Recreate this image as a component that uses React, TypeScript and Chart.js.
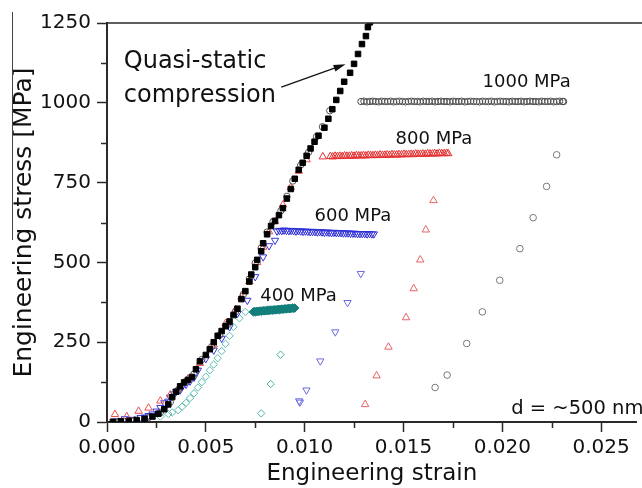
import React, { useEffect, useRef } from 'react';
import { Chart, registerables } from 'chart.js';

Chart.register(...registerables);

const FONT = '"DejaVu Sans", "Liberation Sans", sans-serif';

// ---- axis ticks ----
const xTicks = [0, 0.005, 0.01, 0.015, 0.02, 0.025];
const xMinorTicks = [0.0025, 0.0075, 0.0125, 0.0175, 0.0225];
const yTicks = [0, 250, 500, 750, 1000, 1250];
const yMinorTicks = [125, 375, 625, 875, 1125];

// ---- quasi-static compression (black squares) [strain, stress MPa] ----
const quasiStatic = [
  [0.0003, 1], [0.0007, 2], [0.0011, 4], [0.0015, 6], [0.0019, 10], [0.0023, 17], [0.0026, 26],
  [0.0029, 40], [0.0031, 55], [0.0033, 78], [0.0035, 95], [0.0037, 112], [0.0039, 124], [0.0041, 132],
  [0.0043, 141], [0.0045, 165], [0.0047, 190], [0.005, 210], [0.0052, 228], [0.0054, 250], [0.0056, 270],
  [0.0058, 285], [0.006, 300], [0.0062, 315], [0.0064, 335], [0.0066, 355], [0.0068, 385], [0.007, 410],
  [0.0072, 440], [0.0073, 462], [0.0075, 485], [0.0076, 508], [0.0078, 535], [0.0079, 560], [0.0081, 588],
  [0.0083, 614], [0.0085, 630], [0.0087, 648], [0.0089, 670], [0.0091, 700], [0.0093, 730], [0.0095, 762],
  [0.0097, 790], [0.0099, 812], [0.0101, 834], [0.0103, 857], [0.0105, 878], [0.0107, 897], [0.011, 922],
  [0.0112, 950], [0.0114, 980], [0.0116, 1009], [0.0118, 1037], [0.012, 1066], [0.0123, 1094],
  [0.0125, 1122], [0.0127, 1153], [0.0129, 1184], [0.0131, 1209], [0.0132, 1237], [0.0133, 1252],
];

// ---- 1000 MPa (gray circles) ----
const load1000 = [
  [0.0006, 2], [0.0014, 6], [0.0021, 14], [0.0027, 30], [0.0032, 62], [0.0036, 100], [0.004, 128],
  [0.0044, 150], [0.0048, 196], [0.0053, 236], [0.0057, 272], [0.0061, 306], [0.0065, 345], [0.0069, 400],
  [0.0072, 448], [0.0075, 498], [0.0078, 545], [0.0081, 595], [0.0084, 628], [0.0088, 662], [0.0091, 707],
  [0.0094, 755], [0.0098, 805], [0.0102, 845], [0.0106, 894], [0.0109, 925], [0.01127, 975],
];
const plateau1000 = [
  [0.01285, 1004], [0.013, 1005], [0.01315, 1003], [0.0133, 1004], [0.01345, 1005], [0.0136, 1004],
  [0.01375, 1003], [0.0139, 1005], [0.01405, 1004], [0.0142, 1004], [0.01435, 1005], [0.0145, 1003],
  [0.01465, 1004], [0.0148, 1005], [0.01495, 1004], [0.0151, 1003], [0.01525, 1004], [0.0154, 1005],
  [0.01555, 1004], [0.0157, 1004], [0.01585, 1003], [0.016, 1005], [0.01615, 1004], [0.0163, 1004],
  [0.01645, 1005], [0.0166, 1003], [0.01675, 1004], [0.0169, 1005], [0.01705, 1004], [0.0172, 1004],
  [0.01735, 1003], [0.0175, 1005], [0.01765, 1004], [0.0178, 1004], [0.01795, 1005], [0.0181, 1003],
  [0.01825, 1004], [0.0184, 1005], [0.01855, 1004], [0.0187, 1004], [0.01885, 1003], [0.019, 1005],
  [0.01915, 1004], [0.0193, 1004], [0.01945, 1005], [0.0196, 1003], [0.01975, 1004], [0.0199, 1005],
  [0.02005, 1004], [0.0202, 1004], [0.02035, 1003], [0.0205, 1005], [0.02065, 1004], [0.0208, 1004],
  [0.02095, 1005], [0.0211, 1003], [0.02125, 1004], [0.0214, 1005], [0.02155, 1004], [0.0217, 1004],
  [0.02185, 1003], [0.022, 1005], [0.02215, 1004], [0.0223, 1004], [0.02245, 1005], [0.0226, 1003],
  [0.02275, 1004], [0.0229, 1005], [0.02305, 1004], [0.0231, 1004],
];
const unload1000 = [
  [0.02275, 837], [0.02224, 738], [0.02156, 640], [0.02089, 543], [0.01987, 444], [0.01899, 345],
  [0.0182, 246], [0.01721, 147], [0.0166, 108],
];

// ---- 800 MPa (red triangles) ----
const load800 = [
  [0.0004, 24], [0.001, 17], [0.0016, 34], [0.0021, 44], [0.0027, 66], [0.0032, 85], [0.0036, 104],
  [0.0041, 135], [0.0047, 184], [0.0054, 242], [0.006, 309], [0.0065, 352], [0.0068, 391], [0.0072, 440],
  [0.0076, 500], [0.0079, 548], [0.0082, 596], [0.0085, 628], [0.0089, 680], [0.0093, 735], [0.0097, 786],
  [0.0101, 822],
];
const plateau800 = [
  [0.01092, 831], [0.0113, 832], [0.01142, 831], [0.01154, 833], [0.01166, 832], [0.01178, 833],
  [0.0119, 832], [0.01202, 834], [0.01214, 833], [0.01226, 833], [0.01238, 834], [0.0125, 833],
  [0.01262, 835], [0.01274, 834], [0.01286, 834], [0.01298, 835], [0.0131, 834], [0.01322, 836],
  [0.01334, 835], [0.01346, 835], [0.01358, 836], [0.0137, 835], [0.01382, 837], [0.01394, 836],
  [0.01406, 836], [0.01418, 837], [0.0143, 836], [0.01442, 838], [0.01454, 837], [0.01466, 837],
  [0.01478, 838], [0.0149, 837], [0.01502, 839], [0.01514, 838], [0.01526, 838], [0.01538, 839],
  [0.0155, 838], [0.01562, 840], [0.01574, 839], [0.01586, 839], [0.01598, 840], [0.0161, 839],
  [0.01622, 841], [0.01634, 840], [0.01646, 840], [0.01658, 841], [0.0167, 840], [0.01682, 842],
  [0.01694, 841], [0.01706, 841], [0.01718, 842], [0.01726, 841],
];
const unload800 = [
  [0.01652, 694], [0.01613, 602], [0.01585, 508], [0.01552, 418], [0.01513, 327], [0.01424, 235],
  [0.01364, 145], [0.01306, 55],
];

// ---- 600 MPa (blue down-triangles) ----
const load600 = [
  [0.0005, 3], [0.0009, 10], [0.0013, 8], [0.0017, 14], [0.0019, 15], [0.0021, 20], [0.0023, 25],
  [0.0025, 34], [0.0027, 45], [0.0029, 60], [0.0031, 65], [0.0032, 78], [0.0034, 88], [0.0035, 95],
  [0.0037, 100], [0.0038, 110], [0.004, 118], [0.0042, 128], [0.0044, 140], [0.0046, 162], [0.005, 198],
  [0.0054, 225], [0.0058, 262], [0.0062, 298], [0.0066, 340], [0.0071, 381], [0.0075, 455], [0.0079, 517],
  [0.0082, 552], [0.0085, 569],
];
const plateau600 = [
  [0.0086, 598], [0.00872, 600], [0.00884, 599], [0.00896, 601], [0.00908, 600], [0.0092, 599],
  [0.00932, 600], [0.00944, 599], [0.00956, 598], [0.00968, 599], [0.0098, 598], [0.00992, 597],
  [0.01004, 598], [0.01016, 597], [0.01028, 596], [0.0104, 597], [0.01052, 596], [0.01064, 595],
  [0.01076, 596], [0.01088, 595], [0.011, 594], [0.01112, 595], [0.01124, 594], [0.01136, 593],
  [0.01148, 594], [0.0116, 593], [0.01172, 593], [0.01184, 593], [0.01196, 592], [0.01208, 592],
  [0.0122, 592], [0.01232, 591], [0.01244, 591], [0.01256, 591], [0.01268, 590], [0.0128, 590],
  [0.01292, 590], [0.01304, 590], [0.01316, 589], [0.01328, 590], [0.0134, 589], [0.0135, 589],
];
const unload600 = [
  [0.01284, 465], [0.01217, 374], [0.01155, 282], [0.01079, 191], [0.01009, 100], [0.00972, 66],
  [0.00976, 62],
];

// ---- 400 MPa (teal diamonds) ----
const load400 = [
  [0.0027, 17], [0.0031, 25], [0.0033, 30], [0.0036, 37], [0.0038, 48], [0.004, 60], [0.0042, 75],
  [0.0044, 90], [0.0046, 108], [0.0048, 125], [0.005, 142], [0.0052, 162], [0.0054, 180], [0.0056, 200],
  [0.0058, 222], [0.006, 245], [0.0062, 270], [0.0064, 298], [0.0067, 325], [0.007, 345],
];
const plateau400 = [
  [0.0074, 345], [0.00746, 346], [0.00752, 345], [0.00758, 347], [0.00764, 346], [0.0077, 347],
  [0.00776, 348], [0.00782, 347], [0.00788, 348], [0.00794, 349], [0.008, 348], [0.00806, 349],
  [0.00812, 350], [0.00818, 349], [0.00824, 350], [0.0083, 351], [0.00836, 350], [0.00842, 351],
  [0.00848, 352], [0.00854, 351], [0.0086, 352], [0.00866, 353], [0.00872, 352], [0.00878, 353],
  [0.00884, 354], [0.0089, 353], [0.00896, 354], [0.00902, 355], [0.00908, 354], [0.00914, 355],
  [0.0092, 356], [0.00926, 355], [0.00932, 356], [0.00938, 357], [0.00944, 356], [0.0095, 357],
];
const unload400 = [[0.00878, 211], [0.00828, 119], [0.0078, 27]];

// ---- annotations: [text, strain, stress, font px] ----
const annotations: [string, number, number, number][] = [
  ['Quasi-static', 0.00085, 1108, 24],
  ['compression', 0.00085, 1003, 24],
  ['1000 MPa', 0.019, 1050, 18],
  ['800 MPa', 0.0146, 871, 18],
  ['600 MPa', 0.0105, 631, 18],
  ['400 MPa', 0.00775, 380, 18],
  ['d = ~500 nm', 0.02045, 25, 19.5],
];
const arrowFrom = [0.00882, 1049];
const arrowTo = [0.01207, 1121];

const pts = (arr: number[][]) => arr.map(([x, y]) => ({ x, y }));

function ds(label: string, data: number[][], style: any) {
  return {
    label,
    data: pts(data),
    showLine: false,
    pointBorderWidth: 1,
    pointHoverRadius: 0,
    ...style,
  };
}

const decoPlugin = {
  id: 'deco',
  afterDraw(chart: any) {
    const { ctx, chartArea } = chart;
    const x = chart.scales.x;
    const y = chart.scales.y;
    ctx.save();
    ctx.strokeStyle = '#2a2a2a';
    ctx.lineWidth = 1.5;
    // top frame line
    ctx.beginPath();
    ctx.moveTo(chartArea.left - 0.75, chartArea.top);
    ctx.lineTo(chart.width, chartArea.top);
    ctx.stroke();
    // minor ticks
    ctx.beginPath();
    xMinorTicks.forEach((v) => {
      const px = Math.round(x.getPixelForValue(v)) + 0.5;
      ctx.moveTo(px, chartArea.bottom);
      ctx.lineTo(px, chartArea.bottom + 6);
    });
    yMinorTicks.forEach((v) => {
      const py = Math.round(y.getPixelForValue(v)) + 0.5;
      ctx.moveTo(chartArea.left, py);
      ctx.lineTo(chartArea.left - 6, py);
    });
    ctx.stroke();
    // thin line at far left
    ctx.lineWidth = 1;
    ctx.strokeStyle = '#444';
    ctx.beginPath();
    ctx.moveTo(12.5, 12);
    ctx.lineTo(12.5, 240);
    ctx.stroke();
    // texts
    ctx.fillStyle = '#111';
    ctx.textAlign = 'left';
    ctx.textBaseline = 'alphabetic';
    annotations.forEach(([t, sx, sy, fs]) => {
      ctx.font = `${fs}px ${FONT}`;
      ctx.fillText(t, x.getPixelForValue(sx), y.getPixelForValue(sy));
    });
    // arrow
    const x0 = x.getPixelForValue(arrowFrom[0]);
    const y0 = y.getPixelForValue(arrowFrom[1]);
    const x1 = x.getPixelForValue(arrowTo[0]);
    const y1 = y.getPixelForValue(arrowTo[1]);
    const ang = Math.atan2(y1 - y0, x1 - x0);
    const hl = 12;
    const hw = 3.5;
    ctx.strokeStyle = '#111';
    ctx.lineWidth = 1.2;
    ctx.beginPath();
    ctx.moveTo(x0, y0);
    ctx.lineTo(x1 - Math.cos(ang) * hl * 0.8, y1 - Math.sin(ang) * hl * 0.8);
    ctx.stroke();
    ctx.fillStyle = '#111';
    ctx.beginPath();
    ctx.moveTo(x1, y1);
    ctx.lineTo(x1 - Math.cos(ang) * hl - Math.sin(ang) * hw, y1 - Math.sin(ang) * hl + Math.cos(ang) * hw);
    ctx.lineTo(x1 - Math.cos(ang) * hl + Math.sin(ang) * hw, y1 - Math.sin(ang) * hl - Math.cos(ang) * hw);
    ctx.closePath();
    ctx.fill();
    ctx.restore();
  },
};

export default function App() {
  const ref = useRef<HTMLCanvasElement | null>(null);
  useEffect(() => {
    if (!ref.current) return;
    const gray = '#4d4d4d';
    const chart = new Chart(ref.current, {
      type: 'scatter',
      data: {
        datasets: [
          ds('Quasi-static compression', quasiStatic, {
            pointStyle: 'rect', pointRadius: 3.9, pointBackgroundColor: '#000', pointBorderColor: '#000',
          }),
          ds('1000 MPa plateau', plateau1000, {
            pointStyle: 'circle', pointRadius: 3.2, pointBackgroundColor: 'rgba(0,0,0,0)', pointBorderColor: gray,
          }),
          ds('1000 MPa loading', load1000, {
            pointStyle: 'circle', pointRadius: 3.2, pointBackgroundColor: 'rgba(0,0,0,0)', pointBorderColor: '#555',
          }),
          ds('1000 MPa unloading', unload1000, {
            pointStyle: 'circle', pointRadius: 3.3, pointBackgroundColor: 'rgba(0,0,0,0)', pointBorderColor: '#777',
          }),
          ds('800 MPa plateau', plateau800, {
            pointStyle: 'triangle', pointRadius: 4.3, pointBackgroundColor: 'rgba(0,0,0,0)', pointBorderColor: '#e53030',
          }),
          ds('800 MPa loading', load800, {
            pointStyle: 'triangle', pointRadius: 4.3, pointBackgroundColor: 'rgba(0,0,0,0)', pointBorderColor: '#ee5050',
          }),
          ds('800 MPa unloading', unload800, {
            pointStyle: 'triangle', pointRadius: 4.3, pointBackgroundColor: 'rgba(0,0,0,0)', pointBorderColor: '#e86464',
          }),
          ds('600 MPa plateau', plateau600, {
            pointStyle: 'triangle', rotation: 180, pointRotation: 180, pointRadius: 4.2,
            pointBackgroundColor: 'rgba(0,0,0,0)', pointBorderColor: '#2e2ed8',
          }),
          ds('600 MPa loading', load600, {
            pointStyle: 'triangle', rotation: 180, pointRotation: 180, pointRadius: 4.2,
            pointBackgroundColor: 'rgba(0,0,0,0)', pointBorderColor: '#3838e0',
          }),
          ds('600 MPa unloading', unload600, {
            pointStyle: 'triangle', rotation: 180, pointRotation: 180, pointRadius: 4.2,
            pointBackgroundColor: 'rgba(0,0,0,0)', pointBorderColor: '#6a6ae0',
          }),
          ds('400 MPa plateau', plateau400, {
            pointStyle: 'rectRot', pointRadius: 4.2, pointBackgroundColor: '#137f7b', pointBorderColor: '#137f7b',
          }),
          ds('400 MPa loading', load400, {
            pointStyle: 'rectRot', pointRadius: 3.7, pointBackgroundColor: 'rgba(0,0,0,0)', pointBorderColor: '#5cbcae',
          }),
          ds('400 MPa unloading', unload400, {
            pointStyle: 'rectRot', pointRadius: 3.7, pointBackgroundColor: 'rgba(0,0,0,0)', pointBorderColor: '#4fb3a5',
          }),
        ],
      },
      options: {
        animation: false,
        responsive: true,
        maintainAspectRatio: false,
        events: [],
        layout: { padding: { top: 23, right: 0, left: 0, bottom: 0 } },
        plugins: { legend: { display: false }, tooltip: { enabled: false } },
        scales: {
          x: {
            type: 'linear',
            min: 0,
            max: 0.0268,
            afterBuildTicks: (s: any) => { s.ticks = xTicks.map((v) => ({ value: v })); },
            afterFit: (s: any) => { s.height = 66; },
            ticks: {
              callback: (v: any) => Number(v).toFixed(3),
              font: { family: FONT, size: 20 },
              color: '#111',
              padding: 4,
              maxRotation: 0,
              autoSkip: false,
            },
            grid: { drawOnChartArea: false, drawTicks: true, tickLength: 10, tickColor: '#2a2a2a', tickWidth: 1.5 },
            border: { display: true, color: '#2a2a2a', width: 2 },
            title: {
              display: true,
              text: 'Engineering strain',
              font: { family: FONT, size: 23 },
              color: '#111',
              padding: { top: 0, bottom: 0 },
            },
          },
          y: {
            type: 'linear',
            min: 0,
            max: 1250,
            afterBuildTicks: (s: any) => { s.ticks = yTicks.map((v) => ({ value: v })); },
            afterFit: (s: any) => { s.width = 107; },
            ticks: {
              callback: (v: any) => String(v),
              font: { family: FONT, size: 20 },
              color: '#111',
              padding: 6,
              autoSkip: false,
            },
            grid: { drawOnChartArea: false, drawTicks: true, tickLength: 10, tickColor: '#2a2a2a', tickWidth: 1.5 },
            border: { display: true, color: '#2a2a2a', width: 2 },
            title: {
              display: true,
              text: 'Engineering stress [MPa]',
              font: { family: FONT, size: 25 },
              color: '#111',
              padding: { top: 9, bottom: 0 },
            },
          },
        },
      },
      plugins: [decoPlugin],
    } as any);
    return () => chart.destroy();
  }, []);

  return (
    <div style={{ position: 'absolute', left: 0, top: 0, width: 642, height: 488, background: '#fff' }}>
      <canvas ref={ref} />
    </div>
  );
}
